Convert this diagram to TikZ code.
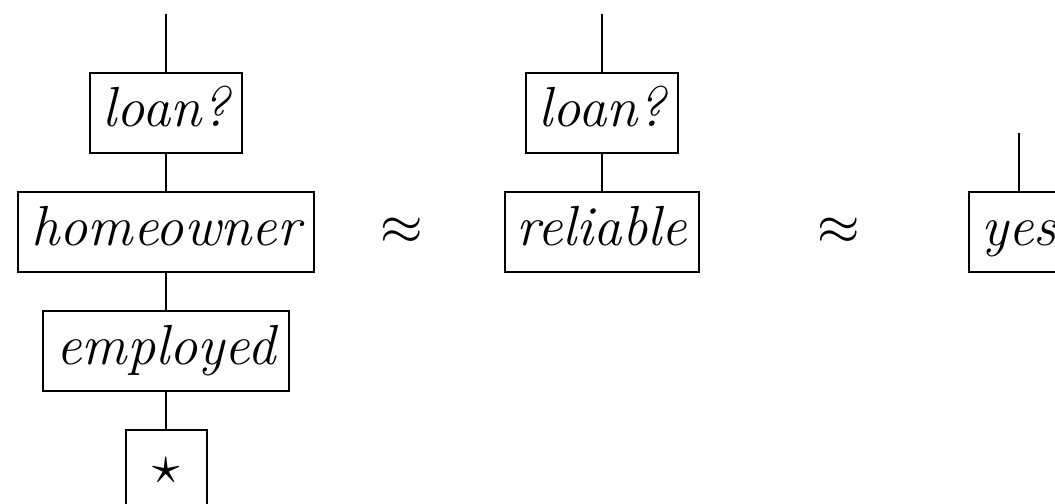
\documentclass[tikz,border=0pt,11pt]{standalone}
\begin{document}
\begin{tikzpicture}[x=0.2pt,y=-0.2pt,
  box/.style={draw, line width=0.4pt, inner sep=0pt, minimum height=16pt,
    text height=7.8pt, text depth=2.2pt, font=\fontsize{11.3}{13.5}\selectfont\itshape},
  link/.style={line width=0.4pt}]
\useasboundingbox (0,0) rectangle (1055,504);
\clip (0,0) rectangle (1055,504);
% left chain
\coordinate (t1) at (166,14);
\node[box, minimum width=30.4pt] (loanA) at (166,113) {loan?};
\node[box, minimum width=59pt]   (home)  at (166,232) {homeowner};
\node[box, minimum width=49pt]   (empl)  at (166,351) {employed};
\node[box, minimum width=16.2pt] (star)  at (166,470) {$\star$};
\draw[link] (t1) -- (loanA);
\draw[link] (loanA) -- (home);
\draw[link] (home) -- (empl);
\draw[link] (empl) -- (star);
% middle chain
\coordinate (t2) at (602,14);
\node[box, minimum width=30.4pt] (loanB) at (602,113) {loan?};
\node[box, minimum width=38.8pt] (reli)  at (602,232) {reliable};
\draw[link] (t2) -- (loanB);
\draw[link] (loanB) -- (reli);
% right chain
\coordinate (t3) at (1019,133);
\node[box, minimum width=20pt] (yes) at (1019,232) {yes};
\draw[link] (t3) -- (yes);
% equivalences
\node (eqA) at (402,231) {$\approx$};
\node (eqB) at (839,231) {$\approx$};
\end{tikzpicture}
\end{document}
